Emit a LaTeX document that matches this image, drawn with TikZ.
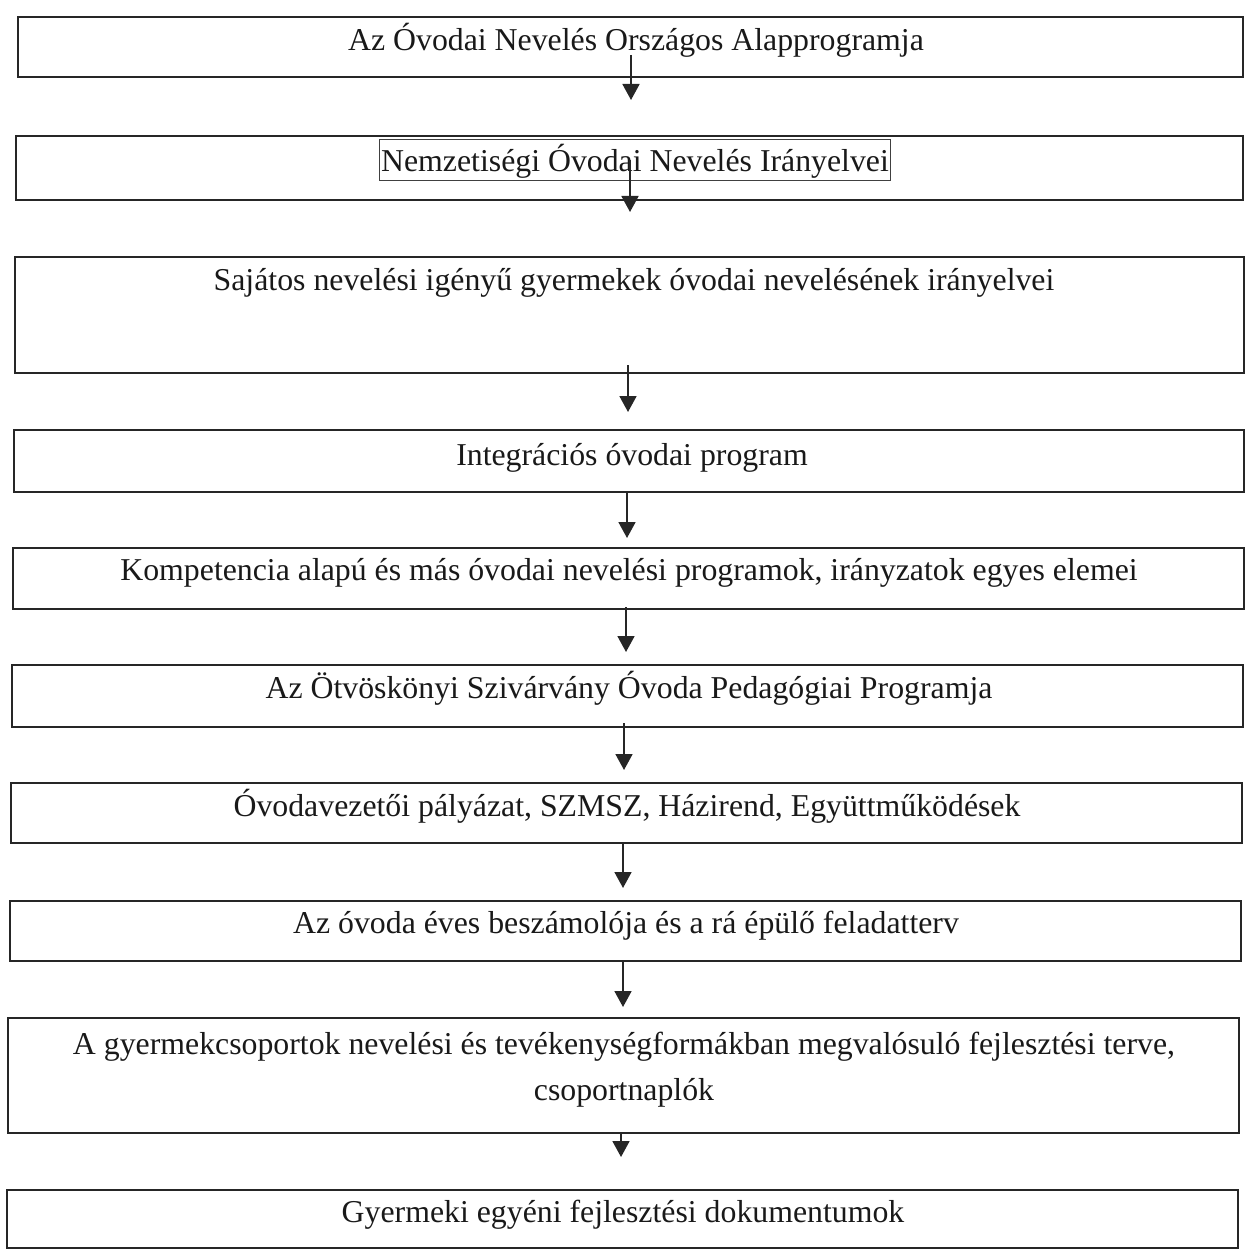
\documentclass[tikz,border=0pt]{standalone}
\usepackage{fontspec}
\setmainfont{Liberation Serif}
\usetikzlibrary{arrows.meta,fit}
\begin{document}
\begin{tikzpicture}[x=0.5pt,y=-0.5pt,
  box/.style={draw=black!85, line width=0.8pt, inner sep=0pt},
  lbl/.style={font=\fontsize{15.9}{23}\selectfont, text=black!90, inner sep=0pt, anchor=base},
  framed/.style={draw=black!75, line width=0.5pt, inner xsep=1pt, inner ysep=0.5pt, text height=15.5pt, text depth=4pt},
  arr/.style={draw=black!85, line width=0.9pt, -{Triangle[width=8.5pt,length=8pt]}}]
\useasboundingbox (0,0) rectangle (1246,1251);
% boxes
\node[box, fit={(18,17) (1243,77)}] (b1) {};
\node[box, fit={(16,136) (1243,200)}] (b2) {};
\node[box, fit={(15,257) (1244,373)}] (b3) {};
\node[box, fit={(14,430) (1244,492)}] (b4) {};
\node[box, fit={(13,548) (1244,609)}] (b5) {};
\node[box, fit={(12,665) (1243,727)}] (b6) {};
\node[box, fit={(11,783) (1242,843)}] (b7) {};
\node[box, fit={(10,901) (1241,961)}] (b8) {};
\node[box, fit={(8,1018) (1239,1133)}] (b9) {};
\node[box, fit={(7,1190) (1238,1248)}] (b10) {};
% texts
\node[lbl] (t1) at (636,51) {Az Óvodai Nevelés Országos Alapprogramja};
\node[lbl, framed] (t2) at (635,172) {Nemzetiségi Óvodai Nevelés Irányelvei};
\node[lbl] (t3) at (634,291) {Sajátos nevelési igényű gyermekek óvodai nevelésének irányelvei};
\node[lbl] (t4) at (632,465) {Integrációs óvodai program};
\node[lbl] (t5) at (629,580) {Kompetencia alapú és más óvodai nevelési programok, irányzatok egyes elemei};
\node[lbl] (t6) at (629,698) {Az Ötvöskönyi Szivárvány Óvoda Pedagógiai Programja};
\node[lbl] (t7) at (627,816) {Óvodavezetői pályázat, SZMSZ, Házirend, Együttműködések};
\node[lbl] (t8) at (626,933) {Az óvoda éves beszámolója és a rá épülő feladatterv};
\node[lbl] (t9a) at (624,1054) {A gyermekcsoportok nevelési és tevékenységformákban megvalósuló fejlesztési terve,};
\node[lbl] (t9b) at (624,1100) {csoportnaplók};
\node[lbl] (t10) at (623,1222) {Gyermeki egyéni fejlesztési dokumentumok};
% arrow end points
\coordinate (s1) at (631,55);   \coordinate (e1) at (631,100);
\coordinate (s2) at (630,160);  \coordinate (e2) at (630,212);
\coordinate (s3) at (628,365);  \coordinate (e3) at (628,412);
\coordinate (s4) at (627,492);  \coordinate (e4) at (627,538);
\coordinate (s5) at (626,607);  \coordinate (e5) at (626,652);
\coordinate (s6) at (624,723);  \coordinate (e6) at (624,770);
\coordinate (s7) at (623,842);  \coordinate (e7) at (623,888);
\coordinate (s8) at (623,962);  \coordinate (e8) at (623,1007);
\coordinate (s9) at (621,1133); \coordinate (e9) at (621,1157);
\foreach \i in {1,...,9} {\draw[arr] (s\i) -- (e\i);}
\end{tikzpicture}
\end{document}
